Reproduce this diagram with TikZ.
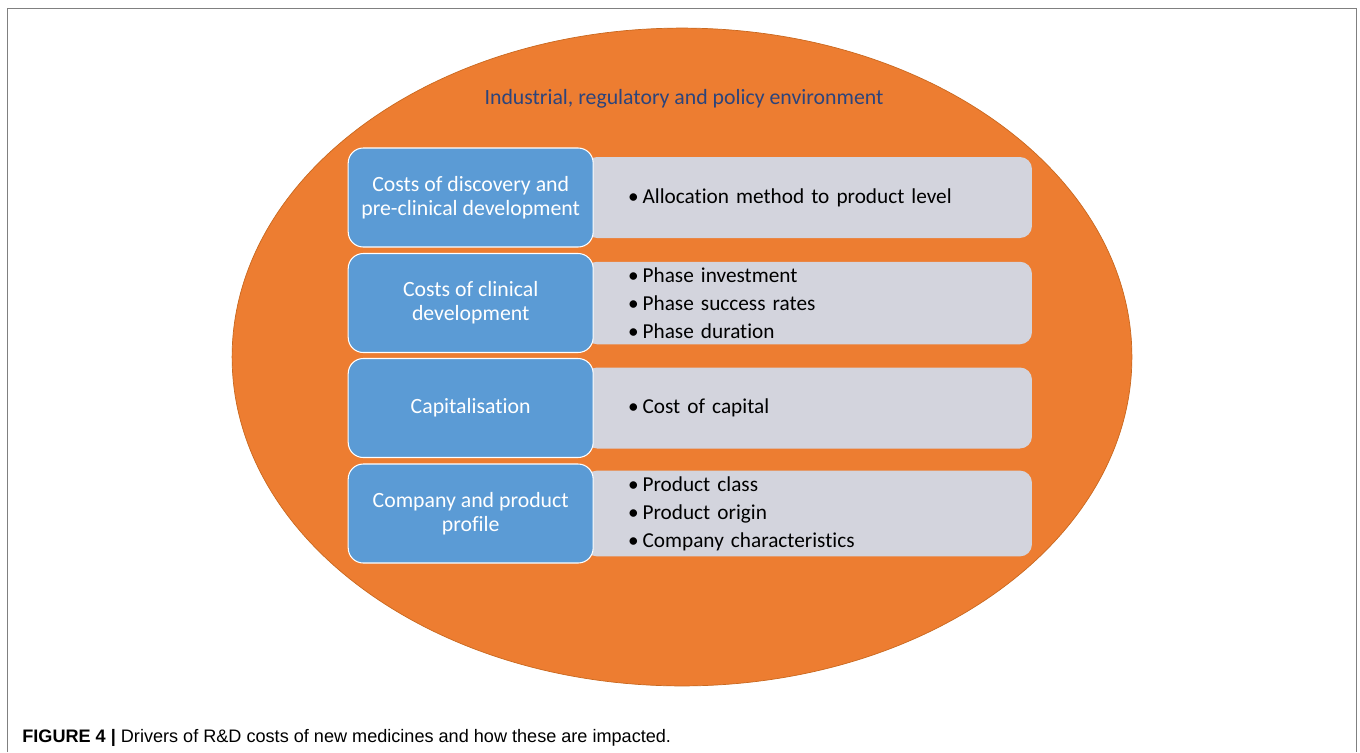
\documentclass[tikz,border=0pt]{standalone}
\usepackage{fontspec}
\setmainfont[Ligatures={NoCommon}]{Carlito}
\newfontfamily\capfont{Liberation Sans}
\usepackage{xcolor}
\usetikzlibrary{shapes, positioning}

\definecolor{envorange}{HTML}{ED7D31}
\definecolor{envedge}{HTML}{C9681F}
\definecolor{driverblue}{HTML}{5B9BD5}
\definecolor{factorgray}{HTML}{D3D4DD}
\definecolor{titleblue}{RGB}{44,68,124}
\definecolor{framegray}{HTML}{808080}

\newcommand\itm{\textbullet\hspace{0.08cm}}

\tikzset{
    driver/.style={draw=white, line width=0.6pt, fill=driverblue, rounded corners=0.3cm,
        minimum width=4.9cm, minimum height=1.98cm, align=center,
        text=white, font=\fontsize{12.4}{13.6}\selectfont},
    factors/.style={fill=factorgray, rounded corners=0.24cm, minimum width=8.94cm,
        minimum height=1.62cm, inner xsep=0.86cm, text width=7.22cm, align=left,
        font=\fontsize{12.1}{15.9}\selectfont}
}

\begin{document}
\begin{tikzpicture}[x=0.02cm, y=-0.02cm]
\useasboundingbox (0,0) rectangle (1360,752);
\draw[framegray, line width=1.1pt] (7.5,752) |- (1356.5,8.5) -- (1356.5,752);

\node[ellipse, fill=envorange, draw=envedge, line width=0.4pt, minimum width=18cm, minimum height=13.16cm] (env) at (682,357) {};
\node[text=titleblue, font=\fontsize{12.4}{14}\selectfont] (envtitle) at (684,99) {Industrial, regulatory and policy environment};

% grey factor boxes first, the blue drivers overlap them
\node[factors] (f1) at (808.5,197.5) {\itm Allocation method to product level};
\node[factors] (f2) at (808.5,303) {\itm Phase investment\\ \itm Phase success rates\\ \itm Phase duration};
\node[factors] (f3) at (808.5,408) {\itm Cost of capital};
\node[factors] (f4) at (808.5,513.5) {\itm Product class\\ \itm Product origin\\ \itm Company characteristics};

\node[driver, left=-0.18cm of f1] (d1) {Costs of discovery and\\pre-clinical development};
\node[driver, left=-0.18cm of f2] (d2) {Costs of clinical\\development};
\node[driver, left=-0.18cm of f3] (d3) {Capitalisation};
\node[driver, left=-0.18cm of f4] (d4) {Company and product\\profile};

\node[anchor=base west, inner sep=0pt, font=\capfont\fontsize{10.3}{12}\selectfont] (caption) at (22,742) {\textbf{FIGURE 4 |} Drivers of R\&D costs of new medicines and how these are impacted.};
\end{tikzpicture}
\end{document}
